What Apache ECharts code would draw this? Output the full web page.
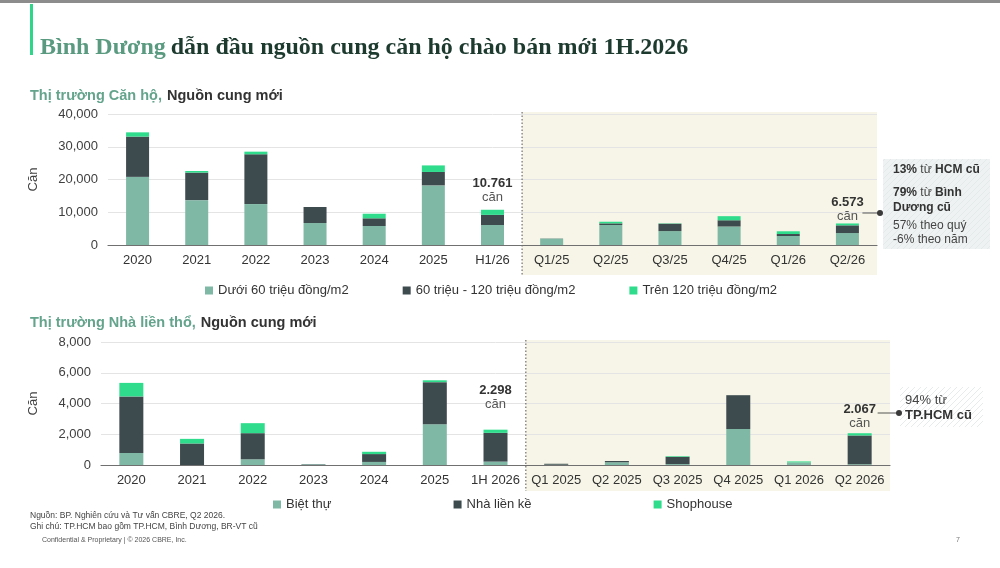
<!DOCTYPE html>
<html>
<head>
    <meta charset="utf-8">
    <title>Nguồn cung mới</title>
    <script src="https://cdn.jsdelivr.net/npm/echarts@6/dist/echarts.min.js"></script>
    <style>
        html, body { margin: 0; padding: 0; background: #fff; }
        #main { width: 1000px; height: 568px; }
    </style>
</head>
<body>
<div id="main"></div>
<script>
    // thị trường căn hộ
    var aptCats = ['2020', '2021', '2022', '2023', '2024', '2025', 'H1/26', 'Q1/25', 'Q2/25', 'Q3/25', 'Q4/25', 'Q1/26', 'Q2/26'];
    var aptUnder60 = [20800, 13700, 12500, 6700, 5800, 18200, 6100, 1950, 6100, 4250, 5650, 2750, 3650];
    var apt60to120 = [12300, 8400, 15200, 4900, 2350, 4100, 3100, 50, 500, 2250, 1900, 600, 2350];
    var aptOver120 = [1300, 500, 800, 0, 1400, 2000, 1561, 0, 500, 100, 1250, 838, 573];
    var aptTicks = [0, 10000, 20000, 30000, 40000];

    // thị trường nhà liền thổ
    var houseCats = ['2020', '2021', '2022', '2023', '2024', '2025', '1H 2026', 'Q1 2025', 'Q2 2025', 'Q3 2025', 'Q4 2025', 'Q1 2026', 'Q2 2026'];
    var villa = [780, 0, 370, 40, 200, 2650, 220, 20, 180, 60, 2340, 170, 50];
    var townhouse = [3680, 1400, 1700, 20, 510, 2740, 1870, 60, 80, 470, 2200, 0, 1870];
    var shophouse = [880, 300, 650, 0, 150, 120, 208, 0, 0, 40, 0, 61, 147];
    var houseTicks = [0, 2000, 4000, 6000, 8000];

    var C_LIGHT = '#7fb8a5', C_DARK = '#3d4a4e', C_BRIGHT = '#2fdc8c';
    var FONT = 'Liberation Sans, Arial, sans-serif';

    function dotFmt(n) {
        return String(n).replace(/\B(?=(\d{3})+(?!\d))/g, '.');
    }
    function total(a, b, c, i) { return a[i] + b[i] + c[i]; }

    // nhãn tổng trên cột
    function topData(vals, labelled, a, b, c) {
        return vals.map(function (v, i) {
            if (labelled[i] === undefined) return v;
            return {
                value: v,
                label: {
                    show: true, position: 'top', distance: labelled[i],
                    formatter: '{b|' + dotFmt(total(a, b, c, i)) + '}\n{n|căn}'
                }
            };
        });
    }

    var aptTop = topData(aptOver120, {6: 5, 12: 0}, aptUnder60, apt60to120, aptOver120);
    var houseTop = topData(shophouse, {6: 18, 12: 3}, villa, townhouse, shophouse);

    var labelRich = {
        b: {fontFamily: FONT, fontSize: 13, fontWeight: 'bold', color: '#333', lineHeight: 14},
        n: {fontFamily: FONT, fontSize: 13, color: '#555', lineHeight: 14}
    };

    function bar(name, data, color, xi, w) {
        return {
            name: name, type: 'bar', stack: 's' + xi, xAxisIndex: xi, yAxisIndex: xi,
            data: data, barWidth: w, itemStyle: {color: color},
            label: {rich: labelRich}, emphasis: {disabled: true}
        };
    }

    function yAxis(idx, ticks, gap) {
        return {
            type: 'value', gridIndex: idx, min: ticks[0], max: ticks[ticks.length - 1],
            interval: ticks[1] - ticks[0],
            name: 'Căn', nameLocation: 'middle', nameGap: gap, nameRotate: 90,
            nameTextStyle: {fontFamily: FONT, fontSize: 13, color: '#404040'},
            axisLine: {show: false}, axisTick: {show: false},
            axisLabel: {
                fontFamily: FONT, fontSize: 13, color: '#404040', margin: 10,
                formatter: function (v) { return v.toLocaleString('en-US'); }
            },
            splitLine: {lineStyle: {color: '#e4e4e4'}}
        };
    }

    function xAxis(idx, cats) {
        return {
            type: 'category', gridIndex: idx, data: cats,
            axisLine: {lineStyle: {color: '#707070', width: 1.2}},
            axisTick: {show: false},
            axisLabel: {fontFamily: FONT, fontSize: 13, color: '#333', margin: 9, interval: 0}
        };
    }

    var chart = echarts.init(document.getElementById('main'));
    chart.setOption({
        animation: false,
        title: [{
            text: '{g|Bình Dương} {d|dẫn đầu nguồn cung căn hộ chào bán mới 1H.2026}',
            left: 35, top: 31,
            textStyle: {
                rich: {
                    g: {fontFamily: 'Liberation Serif, serif', fontSize: 24, fontWeight: 'bold', color: '#5a9a80'},
                    d: {fontFamily: 'Liberation Serif, serif', fontSize: 24, color: '#1d3a2f'}
                }
            }
        }, {
            text: '{g|Thị trường Căn hộ,} {d|Nguồn cung mới}',
            left: 25, top: 82,
            textStyle: {
                rich: {
                    g: {fontFamily: FONT, fontSize: 14.5, fontWeight: 'bold', color: '#64a48d'},
                    d: {fontFamily: FONT, fontSize: 14.5, fontWeight: 'bold', color: '#333'}
                }
            }
        }, {
            text: '{g|Thị trường Nhà liền thổ,} {d|Nguồn cung mới}',
            left: 25, top: 309,
            textStyle: {
                rich: {
                    g: {fontFamily: FONT, fontSize: 14.5, fontWeight: 'bold', color: '#64a48d'},
                    d: {fontFamily: FONT, fontSize: 14.5, fontWeight: 'bold', color: '#333'}
                }
            }
        }],
        legend: [{
            data: ['Dưới 60 triệu đồng/m2', '60 triệu - 120 triệu đồng/m2', 'Trên 120 triệu đồng/m2'],
            top: 279, left: 200, itemGap: 54, itemWidth: 8, itemHeight: 8, icon: 'rect',
            textStyle: {fontFamily: FONT, fontSize: 13, color: '#333'}
        }, {
            data: ['Biệt thự', 'Nhà liền kề', 'Shophouse'],
            top: 493, left: 268, itemGap: 122, itemWidth: 8, itemHeight: 8, icon: 'rect',
            textStyle: {fontFamily: FONT, fontSize: 13, color: '#333'}
        }],
        grid: [
            {left: 108, right: 123, top: 114, height: 131},
            {left: 101, right: 110, top: 342, height: 123}
        ],
        xAxis: [xAxis(0, aptCats), xAxis(1, houseCats)],
        yAxis: [yAxis(0, aptTicks, 68), yAxis(1, houseTicks, 61)],
        series: [
            bar('Dưới 60 triệu đồng/m2', aptUnder60, C_LIGHT, 0, 23),
            bar('60 triệu - 120 triệu đồng/m2', apt60to120, C_DARK, 0, 23),
            bar('Trên 120 triệu đồng/m2', aptTop, C_BRIGHT, 0, 23),
            bar('Biệt thự', villa, C_LIGHT, 1, 24),
            bar('Nhà liền kề', townhouse, C_DARK, 1, 24),
            bar('Shophouse', houseTop, C_BRIGHT, 1, 24)
        ]
    });

    // vùng theo quý, ghi chú bên phải
    function hatch(bg, line) {
        var c = document.createElement('canvas');
        c.width = 6; c.height = 6;
        var g = c.getContext('2d');
        g.fillStyle = bg; g.fillRect(0, 0, 6, 6);
        g.strokeStyle = line; g.lineWidth = 1;
        g.beginPath(); g.moveTo(0, 6); g.lineTo(6, 0); g.moveTo(-1, 1); g.lineTo(1, -1); g.moveTo(5, 7); g.lineTo(7, 5); g.stroke();
        return {image: c, repeat: 'repeat'};
    }

    function quarterZone(xi, cats, yTopVal, yBottomPad) {
        var a = chart.convertToPixel({xAxisIndex: xi}, cats[6]);
        var b = chart.convertToPixel({xAxisIndex: xi}, cats[7]);
        var last = chart.convertToPixel({xAxisIndex: xi}, cats[cats.length - 1]);
        var band = b - a;
        var x0 = (a + b) / 2, x1 = last + band / 2;
        var yTop = chart.convertToPixel({yAxisIndex: xi}, yTopVal) - 2;
        var y0 = chart.convertToPixel({yAxisIndex: xi}, 0);
        return {x0: x0, x1: x1, yTop: yTop, yBot: y0 + yBottomPad, last: last};
    }

    var z1 = quarterZone(0, aptCats, 40000, 30);
    var z2 = quarterZone(1, houseCats, 8000, 26);

    var graphics = [
        {type: 'rect', shape: {x: 0, y: 0, width: 1000, height: 3}, style: {fill: '#8c8c8c'}},
        {type: 'rect', shape: {x: 30, y: 4, width: 3, height: 51}, style: {fill: '#2ed68a'}},
        {type: 'rect', z: -10, shape: {x: z1.x0, y: z1.yTop, width: z1.x1 - z1.x0, height: z1.yBot - z1.yTop}, style: {fill: '#f6f5e7'}},
        {type: 'line', shape: {x1: z1.x0, y1: z1.yTop, x2: z1.x0, y2: z1.yBot}, style: {stroke: '#555', lineWidth: 1, lineDash: [1.5, 2]}},
        {type: 'rect', z: -10, shape: {x: z2.x0, y: z2.yTop, width: z2.x1 - z2.x0, height: z2.yBot - z2.yTop}, style: {fill: '#f6f5e7'}},
        {type: 'line', shape: {x1: z2.x0, y1: z2.yTop, x2: z2.x0, y2: z2.yBot}, style: {stroke: '#555', lineWidth: 1, lineDash: [1.5, 2]}},

        // ghi chú căn hộ
        {type: 'rect', shape: {x: 883, y: 159, width: 107, height: 90}, style: {fill: hatch('#eef2f2', '#e4eaea')}},
        {type: 'line', shape: {x1: z1.last + 15, y1: 213, x2: 880, y2: 213}, style: {stroke: '#555', lineWidth: 1}},
        {type: 'circle', shape: {cx: 880, cy: 213, r: 3}, style: {fill: '#3a3a3a'}},
        {type: 'text', x: 893, y: 164, style: {
            text: '{b|13%} {r|từ} {b|HCM cũ}', rich: {
                b: {fontFamily: FONT, fontSize: 12, fontWeight: 'bold', fill: '#333'},
                r: {fontFamily: FONT, fontSize: 12, fill: '#444'}
            }
        }},
        {type: 'text', x: 893, y: 185, style: {
            text: '{b|79%} {r|từ} {b|Bình}\n{b|Dương cũ}', lineHeight: 15, rich: {
                b: {fontFamily: FONT, fontSize: 12, fontWeight: 'bold', fill: '#333', lineHeight: 15},
                r: {fontFamily: FONT, fontSize: 12, fill: '#444', lineHeight: 15}
            }
        }},
        {type: 'text', x: 893, y: 219, style: {
            text: '57% theo quý\n-6% theo năm', fontFamily: FONT, fontSize: 12, fill: '#444', lineHeight: 14
        }},

        // ghi chú nhà liền thổ
        {type: 'rect', shape: {x: 900, y: 387, width: 83, height: 40}, style: {fill: hatch('#ffffff', '#e6ecec')}},
        {type: 'line', shape: {x1: z2.last + 18, y1: 413, x2: 899, y2: 413}, style: {stroke: '#555', lineWidth: 1}},
        {type: 'circle', shape: {cx: 899, cy: 413, r: 3}, style: {fill: '#3a3a3a'}},
        {type: 'text', x: 905, y: 393, style: {
            text: '{r|94% từ}\n{b|TP.HCM cũ}', rich: {
                b: {fontFamily: FONT, fontSize: 13, fontWeight: 'bold', fill: '#333', lineHeight: 15},
                r: {fontFamily: FONT, fontSize: 13, fill: '#444', lineHeight: 15}
            }
        }},

        // chân trang
        {type: 'text', x: 30, y: 510, style: {
            text: 'Nguồn: BP. Nghiên cứu và Tư vấn CBRE, Q2 2026.\nGhi chú: TP.HCM bao gồm TP.HCM, Bình Dương, BR-VT cũ',
            fontFamily: FONT, fontSize: 8.5, fill: '#444', lineHeight: 11
        }},
        {type: 'text', x: 42, y: 537, style: {
            text: 'Confidential & Proprietary | © 2026 CBRE, Inc.', fontFamily: FONT, fontSize: 7, fill: '#555'
        }},
        {type: 'text', x: 956, y: 537, style: {text: '7', fontFamily: FONT, fontSize: 7, fill: '#777'}}
    ];
    chart.setOption({graphic: graphics});
</script>
</body>
</html>
